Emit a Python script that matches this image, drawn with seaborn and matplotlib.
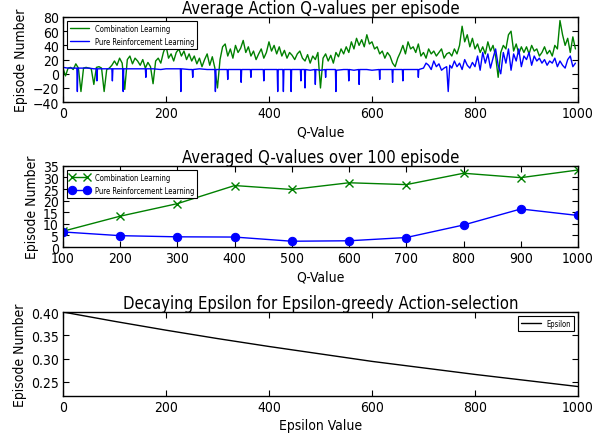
import numpy as np
import pandas as pd
import matplotlib
matplotlib.use("Agg")
import matplotlib.pyplot as plt
import seaborn as sns

# ---------------- data ----------------
combo_ep = list(range(0, 1000, 5))
combo_q = [
    8, -3, 8, 9, 6, 14, 8, -25, 8, 9,
    8, 7, -15, 9, 10, 8, -25, 6, 8, 12,
    18, 12, 22, 15, -22, 20, 25, 14, 22, 18,
    12, 20, 8, 16, 10, -14, 18, 22, 15, 30,
    40, 22, 28, 18, 30, 35, 25, 32, 20, 28,
    18, 25, 14, 22, 10, 20, 28, 12, 24, 8,
    -20, 20, 38, 42, 25, 35, 22, 40, 30, 36,
    47, 30, 38, 25, 32, 20, 28, 35, 22, 30,
    45, 32, 40, 28, 38, 25, 33, 22, 30, 26,
    20, 28, 32, 22, 18, 27, 15, 25, 20, 30,
    -20, 22, 28, 18, 26, 15, 30, 24, 35, 28,
    38, 30, 45, 35, 50, 40, 48, 38, 55, 42,
    45, 35, 38, 28, 32, 22, 30, 25, 15, 10,
    22, 30, 40, 28, 45, 35, 38, 30, 42, 25,
    30, 22, 35, 28, 32, 25, 30, 35, 22, 28,
    30, 25, 35, 28, 40, 67, 45, 55, 38, 50,
    35, 42, 30, 38, 28, 45, 32, 40, 25, -5,
    30, 40, 35, 55, 60, 32, 42, 28, 38, 30,
    38, 28, 40, 32, 35, 25, 30, 38, 28, 33,
    25, 40, 35, 75, 55, 40, 50, 30, 52, 35,
]

pure_ep = [
    0, 10, 20, 27, 28, 29, 40, 50, 60, 65, 66, 67,
    80, 95, 96, 97, 110, 116, 117, 118, 130, 140,
    150, 160, 161, 162, 175, 190, 200, 215, 228, 229, 230,
    245, 251, 252, 253, 265, 280, 295, 296, 297,
    310, 319, 320, 321, 335, 345, 346, 347,
    355, 364, 365, 366, 380, 389, 390, 391,
    405, 416, 417, 418, 422, 427, 428, 429, 435, 442, 443, 444,
    452, 461, 462, 463, 469, 470, 471, 480, 489, 490, 491,
    500, 509, 510, 511, 520, 529, 530, 531, 545, 554, 555, 556,
    565, 574, 575, 576, 590, 600, 614, 615, 616,
    630, 639, 640, 641, 650, 659, 660, 661, 675, 689, 690, 691,
    700, 705, 710, 715, 720, 725, 730, 735, 740, 745, 748, 751,
    755, 760, 765, 770, 775, 780, 785, 790, 795,
    800, 805, 810, 815, 820, 825, 830, 835, 840, 845,
    850, 855, 860, 865, 870, 875, 880, 885, 890, 895,
    900, 905, 910, 915, 920, 925, 930, 935, 940, 945,
    950, 955, 960, 965, 970, 975, 980, 985, 990, 995,
]
pure_q = [
    9, 8, 8, 8, -25, 8, 8, 8, 7, 7, -10, 7,
    7, 7, -10, 7, 7, 7, -25, 7, 7, 7,
    7, 7, -5, 7, 7, 6, 7, 7, 7, -25, 7,
    6, 6, -5, 6, 7, 6, 6, -25, 6,
    6, 6, -8, 6, 6, 6, -12, 6,
    6, 6, -5, 6, 6, 6, -10, 6,
    6, 6, -25, 6, 6, 6, -25, 6, 6, 6, -25, 6,
    6, 6, -10, 6, 6, -20, 6, 5, 6, -15, 6,
    5, 6, -5, 6, 6, 6, -25, 5, 6, 6, -10, 6,
    5, 6, -15, 6, 6, 5, 6, -8, 6,
    6, 6, -12, 6, 6, 6, -10, 6, 6, 6, -5, 6,
    8, 15, 12, 6, 18, 10, 14, 5, 8, 10, -25, 12,
    8, 18, 10, 15, 6, 20, 12, 8, 16,
    10, 25, 5, 30, 15, 28, 8, 22, 35, 12,
    0, 30, 15, 35, 5, 28, 18, 35, 10, 25,
    20, 30, 12, 25, 18, 22, 15, 20, 12, 18,
    15, 22, 10, 18, 12, 8, 20, 25, 10, 15,
]
assert len(pure_ep) == len(pure_q)
assert len(combo_ep) == len(combo_q)

avg_x = [100, 200, 300, 400, 500, 600, 700, 800, 900, 1000]
avg_combo = [6.8, 13.3, 18.7, 26.5, 24.8, 27.7, 26.9, 31.8, 29.9, 33.2]
avg_pure = [6.5, 4.9, 4.4, 4.3, 2.5, 2.7, 4.1, 9.5, 16.4, 13.6]

eps_x = [0, 100, 200, 300, 400, 500, 600, 700, 800, 900, 1000]
eps_y = [0.400, 0.380, 0.361, 0.343, 0.326, 0.310, 0.294, 0.280, 0.266, 0.253, 0.240]

# ---------------- style ----------------
sns.set_style("ticks")
plt.rcParams.update({
    "font.family": ["DejaVu Sans"],
    "font.stretch": "condensed",
    "xtick.direction": "in", "ytick.direction": "in",
    "xtick.top": True, "ytick.right": True,
    "xtick.major.size": 4, "ytick.major.size": 4,
    "axes.edgecolor": "black", "axes.linewidth": 1.0,
    "xtick.color": "black", "ytick.color": "black",
    "text.color": "black", "axes.labelcolor": "black",
})

fig = plt.figure(figsize=(6.11, 4.39), dpi=100)
L, W = 0.103, 0.843
ax1 = fig.add_axes([L, 0.765, W, 0.194])
ax2 = fig.add_axes([L, 0.435, W, 0.185])
ax3 = fig.add_axes([L, 0.096, W, 0.191])

tick_fs = 10
lab_fs = 10
title_fs = 12
leg_fs = 5.5

def style(ax):
    ax.tick_params(labelsize=tick_fs, pad=3)
    for s in ax.spines.values():
        s.set_visible(True)
        s.set_color("black")

def legend(ax, loc, **kw):
    leg = ax.legend(loc=loc, fontsize=leg_fs, fancybox=False, edgecolor="black",
                    framealpha=1, borderpad=0.4, handlelength=2.5, **kw)
    leg.get_frame().set_linewidth(0.8)

# Top
df_c = pd.DataFrame({"ep": combo_ep, "q": combo_q})
df_p = pd.DataFrame({"ep": pure_ep, "q": pure_q})
sns.lineplot(data=df_c, x="ep", y="q", ax=ax1, color="green", lw=1.0,
             label="Combination Learning")
sns.lineplot(data=df_p, x="ep", y="q", ax=ax1, color="blue", lw=1.0,
             label="Pure Reinforcement Learning")
ax1.set_xlim(0, 1000)
ax1.set_ylim(-40, 80)
ax1.set_yticks([-40, -20, 0, 20, 40, 60, 80])
ax1.set_xticks([0, 200, 400, 600, 800, 1000])
ax1.set_title("Average Action Q-values per episode", fontsize=title_fs, pad=3)
ax1.set_xlabel("Q-Value", fontsize=lab_fs, labelpad=3)
ax1.set_ylabel("Episode Number", fontsize=lab_fs, labelpad=3)
legend(ax1, "upper left")
style(ax1)

# Middle
df2 = pd.DataFrame({"x": avg_x, "combo": avg_combo, "pure": avg_pure})
sns.lineplot(data=df2, x="x", y="combo", ax=ax2, color="green", lw=1.0,
             marker="x", markersize=6, markeredgecolor="green", mew=1.0,
             label="Combination Learning")
sns.lineplot(data=df2, x="x", y="pure", ax=ax2, color="blue", lw=1.0,
             marker="o", markersize=6, markeredgecolor="blue",
             label="Pure Reinforcement Learning")
ax2.set_xlim(100, 1000)
ax2.set_ylim(0, 35)
ax2.set_yticks([0, 5, 10, 15, 20, 25, 30, 35])
ax2.set_xticks(avg_x)
ax2.set_title("Averaged Q-values over 100 episode", fontsize=title_fs, pad=3)
ax2.set_xlabel("Q-Value", fontsize=lab_fs, labelpad=3)
ax2.set_ylabel("Episode Number", fontsize=lab_fs, labelpad=3)
legend(ax2, "upper left", numpoints=2)
style(ax2)

# Bottom
df3 = pd.DataFrame({"x": eps_x, "eps": eps_y})
sns.lineplot(data=df3, x="x", y="eps", ax=ax3, color="black", lw=1.0, label="Epsilon")
ax3.set_xlim(0, 1000)
ax3.set_ylim(0.22, 0.40)
ax3.set_yticks([0.25, 0.30, 0.35, 0.40])
ax3.set_yticklabels(["0.25", "0.30", "0.35", "0.40"])
ax3.set_xticks([0, 200, 400, 600, 800, 1000])
ax3.set_title("Decaying Epsilon for Epsilon-greedy Action-selection", fontsize=title_fs, pad=3)
ax3.set_xlabel("Epsilon Value", fontsize=lab_fs, labelpad=3)
ax3.set_ylabel("Episode Number", fontsize=lab_fs, labelpad=3)
legend(ax3, "upper right")
style(ax3)

fig.savefig("out.png", dpi=100)
